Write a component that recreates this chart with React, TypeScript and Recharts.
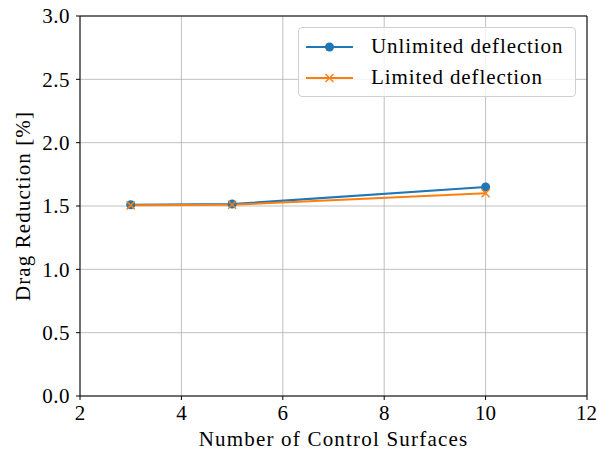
import React from 'react';
import { LineChart, Line, XAxis, YAxis, CartesianGrid, Legend, ReferenceLine, Label } from 'recharts';

const surfaces = [3, 5, 10];
const unlimited = [1.51, 1.515, 1.65];
const limited = [1.505, 1.51, 1.6];
const xTicks = [2, 4, 6, 8, 10, 12];
const yTicks = [0, 0.5, 1.0, 1.5, 2.0, 2.5, 3.0];

const data = surfaces.map((s, i) => ({ n: s, unlimited: unlimited[i], limited: limited[i] }));

const BLUE = '#1f77b4';
const ORANGE = '#ff7f0e';
const FONT = '"Liberation Serif", "DejaVu Serif", serif';

const XDot = (props: any) => {
  const { cx, cy } = props;
  if (cx == null || cy == null) return null;
  const d = 4;
  return (
    <g>
      <line x1={cx - d} y1={cy - d} x2={cx + d} y2={cy + d} stroke={ORANGE} strokeWidth={1.5} />
      <line x1={cx - d} y1={cy + d} x2={cx + d} y2={cy - d} stroke={ORANGE} strokeWidth={1.5} />
    </g>
  );
};

const LegendBox = () => (
  <div
    style={{
      border: '1px solid #d0d0d0',
      borderRadius: 4,
      background: 'rgba(255,255,255,0.8)',
      padding: '3px 0 3px 7px',
      fontFamily: FONT,
      fontSize: 21,
      letterSpacing: 0.9,
      color: '#000',
      boxSizing: 'border-box',
      width: 278,
      height: 70,
    }}
  >
    <div style={{ display: 'flex', alignItems: 'center', height: 31 }}>
      <svg width={47} height={14} style={{ marginRight: 18 }}>
        <line x1={0} y1={7} x2={47} y2={7} stroke={BLUE} strokeWidth={2} />
        <circle cx={23.5} cy={7} r={4.5} fill={BLUE} />
      </svg>
      <span>Unlimited deflection</span>
    </div>
    <div style={{ display: 'flex', alignItems: 'center', height: 31 }}>
      <svg width={47} height={14} style={{ marginRight: 18 }}>
        <line x1={0} y1={7} x2={47} y2={7} stroke={ORANGE} strokeWidth={2} />
        <line x1={19.5} y1={3} x2={27.5} y2={11} stroke={ORANGE} strokeWidth={1.5} />
        <line x1={19.5} y1={11} x2={27.5} y2={3} stroke={ORANGE} strokeWidth={1.5} />
      </svg>
      <span>Limited deflection</span>
    </div>
  </div>
);

export default function App() {
  return (
    <div style={{ position: 'absolute', left: 0, top: 0, width: 597, height: 451, background: '#fff' }}>
      <LineChart width={597} height={451} data={data} margin={{ top: 16, right: 10, bottom: 0, left: 0 }}>
        <CartesianGrid stroke="#b0b0b0" strokeWidth={0.8} />
        <XAxis
          dataKey="n"
          type="number"
          domain={[2, 12]}
          ticks={xTicks}
          height={55}
          stroke="#000"
          tickSize={4}
          tick={{ fill: '#000', fontFamily: FONT, fontSize: 21 }}
          tickMargin={5}
        >
          <Label value="Number of Control Surfaces" position="insideBottom" offset={5} style={{ fill: '#000', fontFamily: FONT, fontSize: 21, letterSpacing: 1.2 }} />
        </XAxis>
        <YAxis
          type="number"
          domain={[0, 3]}
          ticks={yTicks}
          width={80}
          stroke="#000"
          tickSize={4}
          tickFormatter={(v: number) => v.toFixed(1)}
          tick={{ fill: '#000', fontFamily: FONT, fontSize: 21, letterSpacing: 0.5 }}
          tickMargin={6}
        >
          <Label value="Drag Reduction [%]" angle={-90} position="insideLeft" offset={23} style={{ textAnchor: 'middle', fill: '#000', fontFamily: FONT, fontSize: 21, letterSpacing: 1.1 }} />
        </YAxis>
        <ReferenceLine y={3} stroke="#000" strokeWidth={1} />
        <ReferenceLine x={12} stroke="#000" strokeWidth={1} />
        <Line
          dataKey="unlimited"
          stroke={BLUE}
          strokeWidth={2}
          dot={{ r: 4.5, fill: BLUE, stroke: BLUE, strokeWidth: 0 }}
          isAnimationActive={false}
        />
        <Line
          dataKey="limited"
          stroke={ORANGE}
          strokeWidth={2}
          dot={<XDot />}
          isAnimationActive={false}
        />
        <Legend
          layout="horizontal"
          verticalAlign="middle"
          align="center"
          content={<LegendBox />}
          wrapperStyle={{ position: 'absolute', top: 27, left: 298, width: 278, height: 70 }}
        />
      </LineChart>
    </div>
  );
}
